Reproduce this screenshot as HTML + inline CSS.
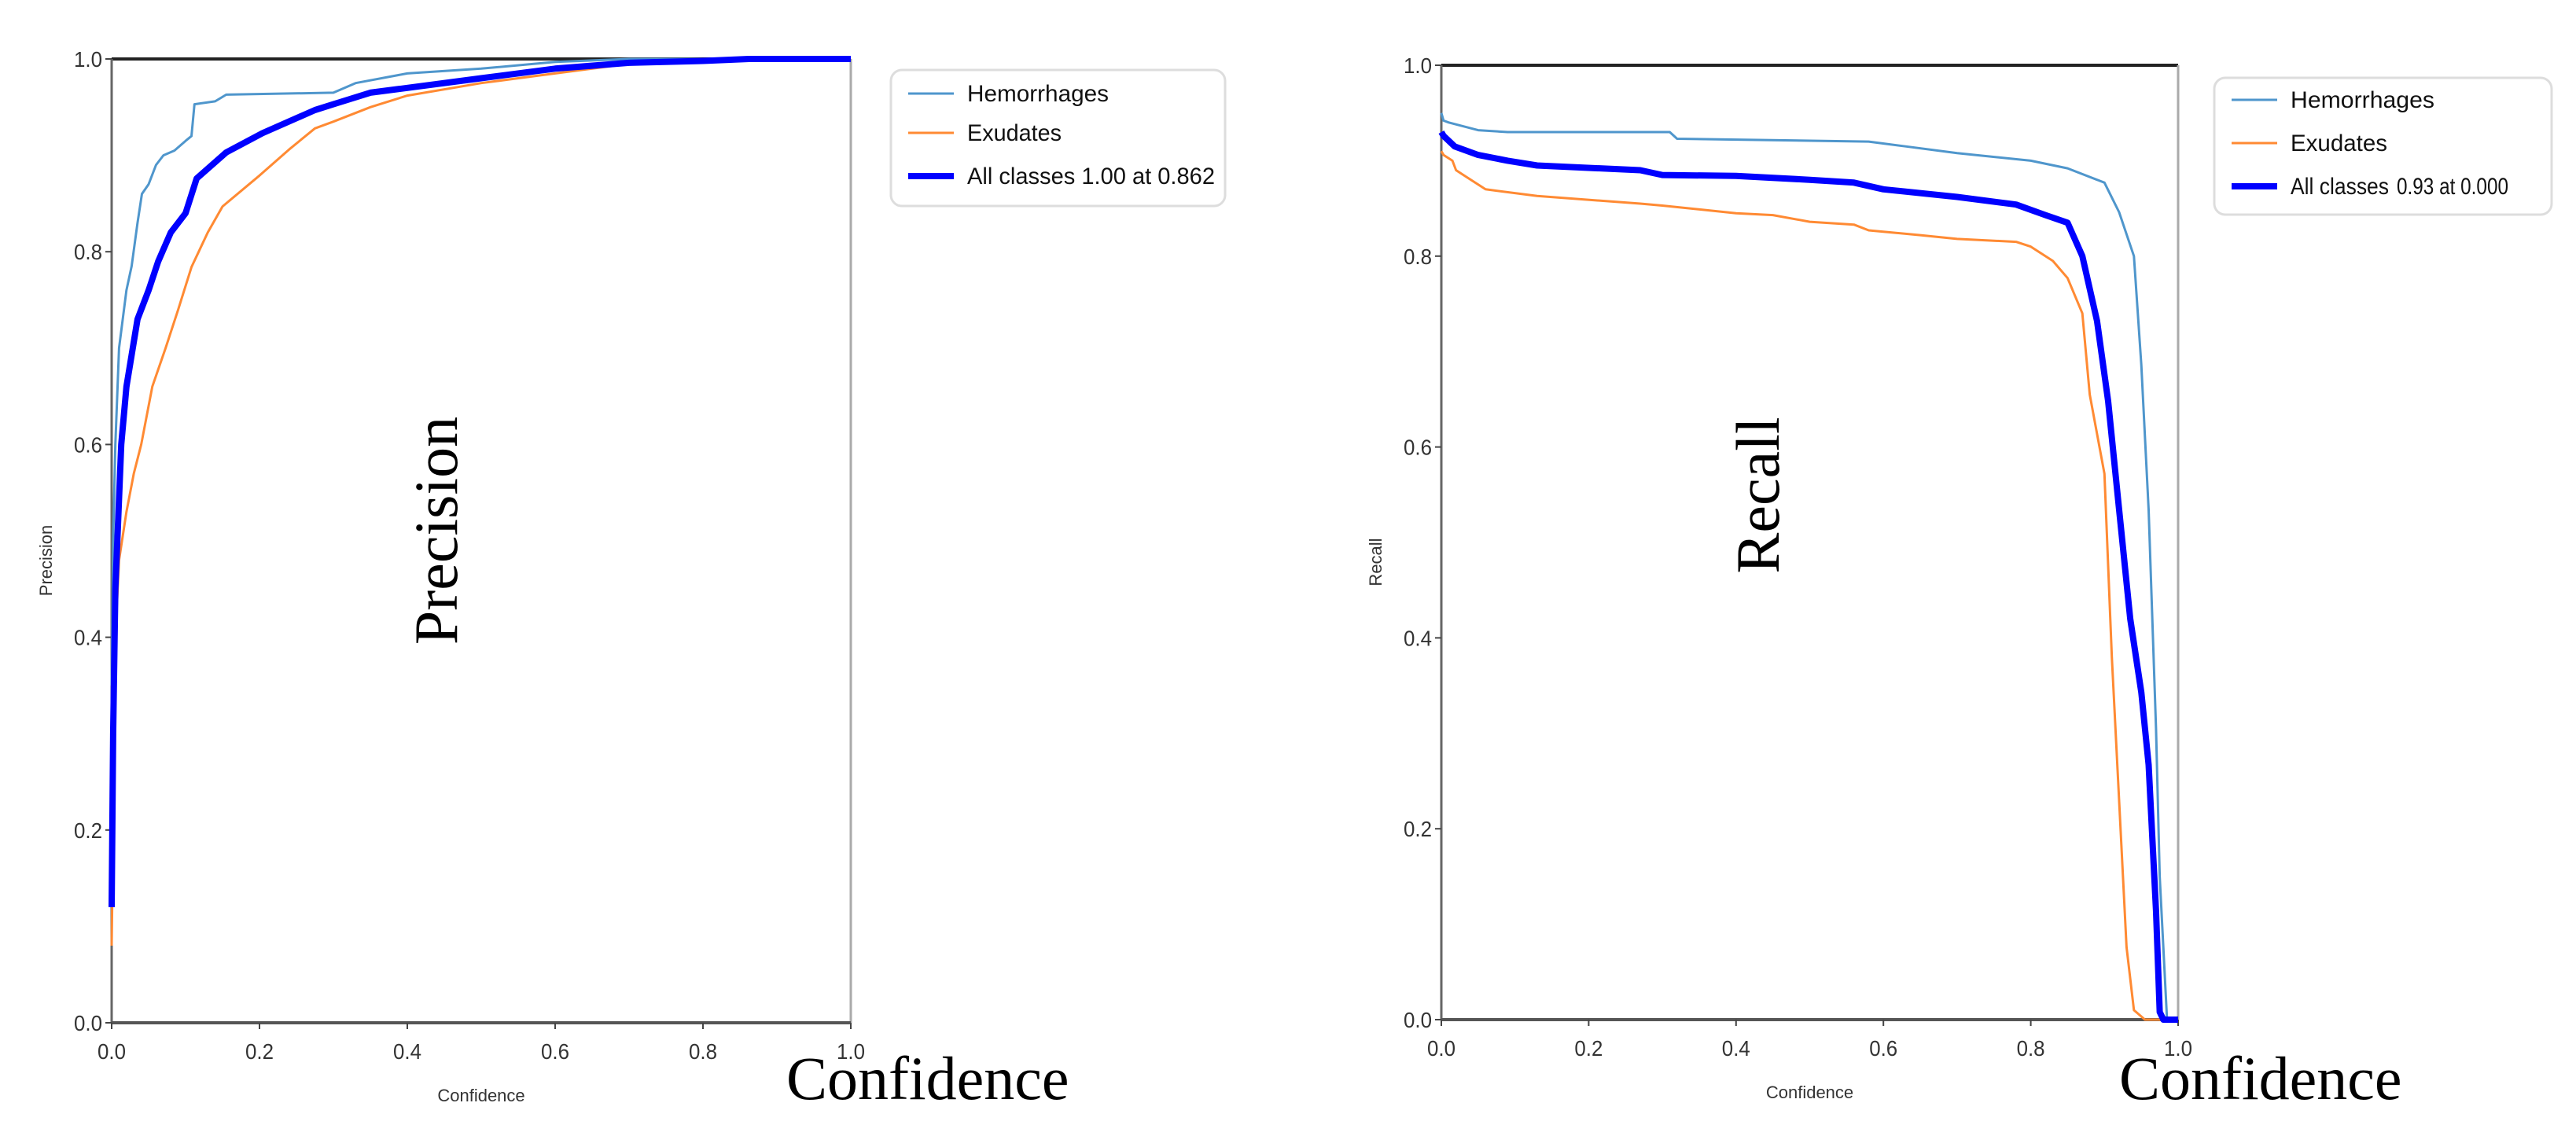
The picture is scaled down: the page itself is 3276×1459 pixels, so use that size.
<!DOCTYPE html>
<html><head><meta charset="utf-8">
<style>
html,body{margin:0;padding:0;background:#fff;}
svg{display:block;}
.tick{font-family:"Liberation Sans Narrow","Liberation Sans",sans-serif;font-size:28px;fill:#333;}
.lab{font-family:"Liberation Sans",sans-serif;font-size:22px;fill:#333;}
.leg{font-family:"Liberation Sans Narrow","Liberation Sans",sans-serif;font-size:30px;fill:#111;}
.big{font-family:"Liberation Serif",serif;font-size:78px;fill:#000;}
</style></head>
<body>
<svg id="fig" width="3276" height="1459" viewBox="0 0 3276 1459" xmlns="http://www.w3.org/2000/svg">
<g id="pPlot"></g>
<g id="rPlot"></g>
<text class="big" x="1000" y="1398">Confidence</text>
<text class="big" x="2695" y="1398">Confidence</text>
<text class="big" transform="translate(581,675) rotate(-90)" text-anchor="middle">Precision</text>
<text class="big" transform="translate(2262,630) rotate(-90)" text-anchor="middle">Recall</text>
</svg>
<script>
const ticks = [0, 0.2, 0.4, 0.6, 0.8, 1.0];
const tickLabels = ["0.0","0.2","0.4","0.6","0.8","1.0"];
// Precision chart data
const pHemX = [0,0.002,0.005,0.01,0.02,0.027,0.035,0.041,0.05,0.06,0.07,0.085,0.1,0.108,0.112,0.14,0.155,0.3,0.33,0.4,0.5,0.6,0.7,0.86,1.0];
const pHemY = [0.35,0.5,0.6,0.7,0.76,0.785,0.83,0.86,0.87,0.89,0.9,0.905,0.915,0.92,0.953,0.956,0.963,0.965,0.975,0.985,0.99,0.997,1.0,1.0,1.0];
const pExuX = [0,0.002,0.005,0.01,0.02,0.03,0.04,0.055,0.073,0.09,0.108,0.13,0.15,0.2,0.24,0.275,0.3,0.35,0.4,0.5,0.6,0.7,0.8,0.86,1.0];
const pExuY = [0.08,0.2,0.4,0.48,0.53,0.57,0.6,0.66,0.7,0.74,0.784,0.82,0.847,0.879,0.906,0.928,0.935,0.95,0.962,0.975,0.985,0.995,0.998,1.0,1.0];
const pAllX = [0,0.002,0.005,0.013,0.02,0.035,0.05,0.063,0.08,0.1,0.115,0.155,0.204,0.275,0.3,0.35,0.4,0.5,0.6,0.7,0.8,0.862,1.0];
const pAllY = [0.12,0.3,0.45,0.6,0.66,0.73,0.76,0.79,0.82,0.84,0.876,0.903,0.923,0.947,0.953,0.965,0.97,0.98,0.99,0.996,0.998,1.0,1.0];
// Recall chart data
const rHemX = [0,0.003,0.01,0.05,0.09,0.31,0.32,0.58,0.63,0.7,0.8,0.85,0.9,0.92,0.94,0.95,0.96,0.97,0.975,0.985,1.0];
const rHemY = [0.95,0.942,0.94,0.932,0.93,0.93,0.923,0.92,0.915,0.908,0.9,0.892,0.877,0.846,0.8,0.686,0.534,0.305,0.15,0.0,0.0];
const rExuX = [0,0.003,0.015,0.02,0.03,0.06,0.13,0.27,0.3,0.4,0.45,0.5,0.56,0.58,0.65,0.7,0.78,0.8,0.83,0.85,0.87,0.88,0.9,0.91,0.92,0.93,0.94,0.955,1.0];
const rExuY = [0.91,0.906,0.9,0.89,0.885,0.87,0.863,0.855,0.853,0.845,0.843,0.836,0.833,0.827,0.822,0.818,0.815,0.81,0.795,0.777,0.74,0.655,0.572,0.38,0.229,0.076,0.01,0.0,0.0];
const rAllX = [0,0.003,0.018,0.05,0.09,0.13,0.27,0.3,0.4,0.5,0.56,0.6,0.7,0.78,0.82,0.85,0.87,0.89,0.905,0.92,0.935,0.95,0.96,0.97,0.975,0.98,1.0];
const rAllY = [0.93,0.926,0.915,0.906,0.9,0.895,0.89,0.885,0.884,0.88,0.877,0.87,0.862,0.854,0.843,0.835,0.8,0.732,0.648,0.534,0.42,0.343,0.267,0.114,0.008,0.0,0.0];

const NS = "http://www.w3.org/2000/svg";
function mk(tag, attrs, parent){
  const e = document.createElementNS(NS, tag);
  for (const k in attrs) e.setAttribute(k, attrs[k]);
  parent.appendChild(e);
  return e;
}
function drawChart(g, box, series, ylab, legBox, legText3, legWidths, smallTail){
  const sx = v => box.x0 + v*(box.x1-box.x0);
  const sy = v => box.y1 - v*(box.y1-box.y0);
  let f = mk("line",{x1:box.x0,y1:box.y0,x2:box.x1,y2:box.y0,stroke:"#222","stroke-width":4},g);
  
  
  f = mk("line",{x1:box.x1,y1:box.y0,x2:box.x1,y2:box.y1,stroke:"#aaa","stroke-width":3},g);
  
  
  f = mk("line",{x1:box.x0,y1:box.y0,x2:box.x0,y2:box.y1,stroke:"#666","stroke-width":3},g);
  
  
  f = mk("line",{x1:box.x0,y1:box.y1,x2:box.x1,y2:box.y1,stroke:"#555","stroke-width":4},g);
  
  
  ticks.forEach((t,i)=>{
    let l = mk("line",{x1:box.x0-8,y1:sy(t),x2:box.x0,y2:sy(t),stroke:"#444","stroke-width":2},g);
    
    
    let tx = mk("text",{x:box.x0-12,y:sy(t)+10,"text-anchor":"end",class:"tick",textLength:36,lengthAdjust:"spacingAndGlyphs"},g);
    tx.textContent = tickLabels[i];
    
    
    l = mk("line",{x1:sx(t),y1:box.y1,x2:sx(t),y2:box.y1+8,stroke:"#444","stroke-width":2},g);
    
    
    tx = mk("text",{x:sx(t),y:box.y1+46,"text-anchor":"middle",class:"tick",textLength:36,lengthAdjust:"spacingAndGlyphs"},g);
    tx.textContent = tickLabels[i];
    
    
  });
  let xl = mk("text",{x:(box.x0+box.x1)/2,y:box.y1+100,"text-anchor":"middle",class:"lab"},g);
  xl.textContent = "Confidence";
  
  
  let yl = mk("text",{transform:`translate(${box.x0-76},${(box.y0+box.y1)/2+25}) rotate(-90)`,"text-anchor":"middle",class:"lab"},g);
  yl.textContent = ylab;
  
  
  series.forEach(s=>{
    const d = s.xs.map((x,i)=>(i?"L":"M")+sx(x).toFixed(1)+" "+sy(s.ys[i]).toFixed(1)).join(" ");
    const p = mk("path",{d:d,fill:"none",stroke:s.color,"stroke-width":s.w,"stroke-linejoin":"round"},g);
    
    
  });
  const lg = mk("g",{},g);
  
  
  const r = mk("rect",{x:legBox.x,y:legBox.y,width:legBox.w,height:legBox.h,rx:14,fill:"#fff",stroke:"#ddd","stroke-width":3},lg);
  
  
  const labels = ["Hemorrhages","Exudates",legText3];
  series.forEach((s,i)=>{
    const yy = legBox.y + legBox.r[i];
    const ln = mk("line",{x1:legBox.x+22,y1:yy,x2:legBox.x+80,y2:yy,stroke:s.color,"stroke-width":s.w},lg);
    
    
    if (i === 2 && smallTail) {
      const t = mk("text",{x:legBox.x+97,y:yy+10,class:"leg",textLength:125,lengthAdjust:"spacingAndGlyphs"},lg);
      t.textContent = "All classes";
      
      
      const t2 = mk("text",{x:legBox.x+232,y:yy+10,class:"leg","font-size":"24",textLength:142,lengthAdjust:"spacingAndGlyphs"},lg);
      t2.textContent = smallTail;
      
      
    } else {
      const t = mk("text",{x:legBox.x+97,y:yy+10,class:"leg",textLength:legWidths[i],lengthAdjust:"spacingAndGlyphs"},lg);
      t.textContent = labels[i];
      
      
    }
  });
}
drawChart(document.getElementById("pPlot"),
  {x0:142,x1:1082,y0:75,y1:1301},
  [{xs:pHemX,ys:pHemY,color:"#4f96cc",w:3,name:"hemorrhages-line"},
   {xs:pExuX,ys:pExuY,color:"#ff8a33",w:3,name:"exudates-line"},
   {xs:pAllX,ys:pAllY,color:"#0000ff",w:8,name:"all-classes-line"}],
  "Precision",{x:1133,y:89,w:425,h:173,r:[30,80,135]},"All classes 1.00 at 0.862",[180,120,315],null);
drawChart(document.getElementById("rPlot"),
  {x0:1833,x1:2770,y0:83,y1:1297},
  [{xs:rHemX,ys:rHemY,color:"#4f96cc",w:3,name:"hemorrhages-line"},
   {xs:rExuX,ys:rExuY,color:"#ff8a33",w:3,name:"exudates-line"},
   {xs:rAllX,ys:rAllY,color:"#0000ff",w:8,name:"all-classes-line"}],
  "Recall",{x:2816,y:99,w:429,h:174,r:[28,83,138]},"All classes 0.93 at 0.000",[183,123,290],"0.93 at 0.000");
</script>
</body></html>
